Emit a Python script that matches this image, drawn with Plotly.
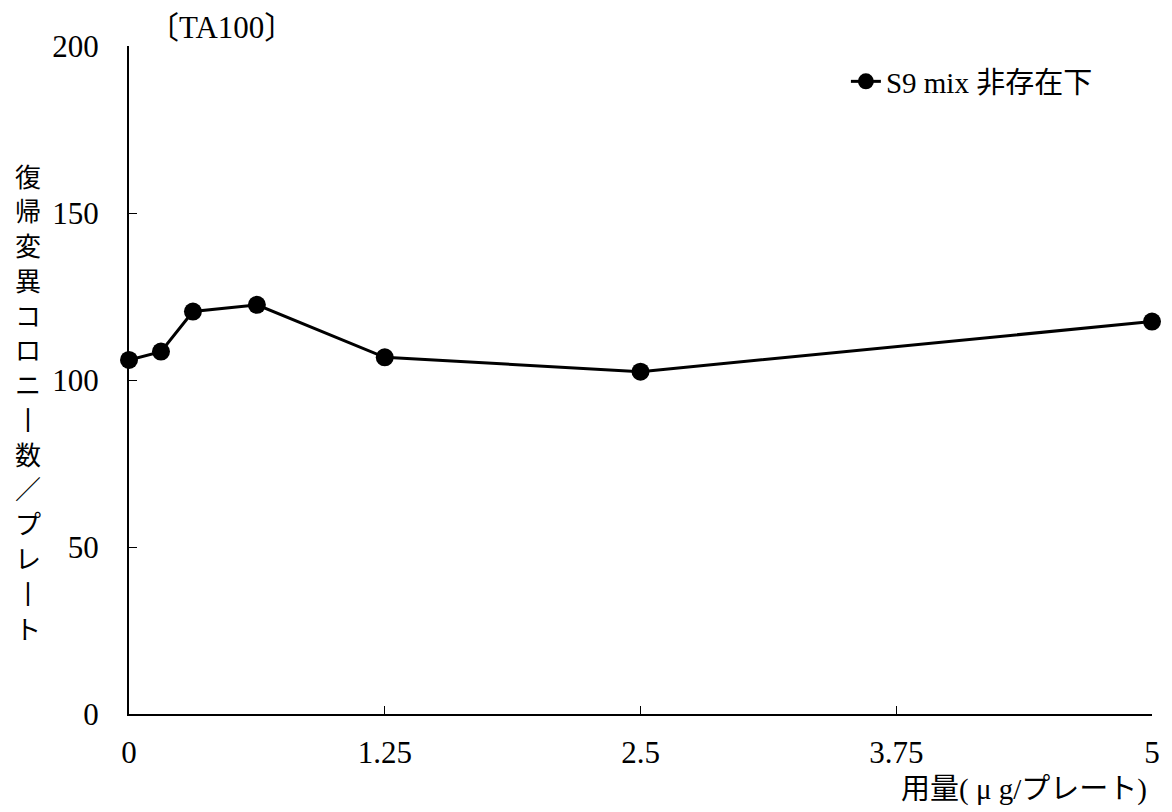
import plotly.graph_objects as go

# Data
doses = [0, 0.15625, 0.3125, 0.625, 1.25, 2.5, 5]
colonies = [106, 108.5, 120.5, 122.5, 106.8, 102.5, 117.5]
x_ticks = [0, 1.25, 2.5, 3.75, 5]
x_tick_labels = ["0", "1.25", "2.5", "3.75", "5"]
y_ticks = [0, 50, 100, 150, 200]
series_name = "S9 mix 非存在下"
title_text = "〔TA100〕"
y_label_chars = ["復", "帰", "変", "異", "コ", "ロ", "ニ", "丨", "数", "／", "プ", "レ", "丨", "ト"]
x_label = "用量( μ g/プレート)"

serif = "Liberation Serif, Noto Sans CJK JP, serif"
cjk = "Noto Sans CJK JP, sans-serif"

W, H = 1164, 804
ML, MR, MT, MB = 121, 17, 38, 98
PW, PH = W - ML - MR, H - MT - MB

def px_x(px):
    # page pixel (with 8px body offset) -> paper x
    return (px - 8 - ML) / PW

def px_y(py):
    return (H - MB - (py - 8)) / PH

fig = go.Figure()
fig.add_trace(go.Scatter(
    x=doses, y=colonies, mode="lines+markers", name=series_name,
    line=dict(color="black", width=3),
    marker=dict(color="black", size=18),
    cliponaxis=False,
))

annotations = [
    dict(text=title_text, xref="paper", yref="paper", x=px_x(222), y=px_y(27),
         xanchor="center", yanchor="middle", showarrow=False,
         font=dict(family=serif, size=31)),
    dict(text=x_label, xref="paper", yref="paper", x=px_x(1152), y=px_y(790),
         xanchor="right", yanchor="middle", showarrow=False,
         font=dict(family=serif, size=29)),
]
n = len(y_label_chars)
top_c, bot_c = 175, 627
for i, ch in enumerate(y_label_chars):
    cy = top_c + (bot_c - top_c) * i / (n - 1)
    annotations.append(dict(text=ch, xref="paper", yref="paper", x=px_x(28), y=px_y(cy),
                            xanchor="center", yanchor="middle", showarrow=False,
                            font=dict(family=cjk, size=26)))

fig.update_layout(
    width=W, height=H,
    margin=dict(l=ML, r=MR, t=MT, b=MB),
    paper_bgcolor="white", plot_bgcolor="white",
    font=dict(family=serif, size=28, color="black"),
    showlegend=True,
    legend=dict(x=px_x(848), y=px_y(56), xanchor="left", yanchor="top",
                font=dict(family=serif, size=29, color="black"),
                bgcolor="rgba(0,0,0,0)"),
    xaxis=dict(range=[0, 5], tickvals=x_ticks, ticktext=x_tick_labels,
               showline=True, linecolor="black", linewidth=2,
               ticks="inside", ticklen=8, tickwidth=1, tickcolor="black",
               showgrid=False, zeroline=False, ticklabelstandoff=10,
               tickfont=dict(family=serif, size=31)),
    yaxis=dict(range=[0, 200], tickvals=y_ticks,
               showline=True, linecolor="black", linewidth=2,
               ticks="inside", ticklen=8, tickwidth=1, tickcolor="black",
               showgrid=False, zeroline=False, ticklabelstandoff=22,
               tickfont=dict(family=serif, size=31)),
    annotations=annotations,
)

fig.write_html("out.html")
